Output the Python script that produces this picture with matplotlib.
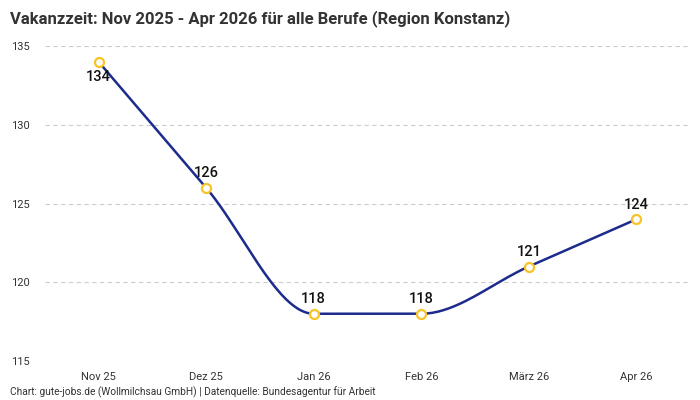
import numpy as np
import matplotlib
matplotlib.use('Agg')
import matplotlib.pyplot as plt

months = ['Nov 25', 'Dez 25', 'Jan 26', 'Feb 26', 'März 26', 'Apr 26']
vakanz = [134, 126, 118, 118, 121, 124]
y_ticks = [115, 120, 125, 130, 135]

plt.rcParams['font.family'] = ['Roboto', 'DejaVu Sans']


def monotone_curve(xs, ys, n=40):
    # Fritsch-Carlson monotone cubic, for the smooth line
    xs = np.asarray(xs, float)
    ys = np.asarray(ys, float)
    h = np.diff(xs)
    d = np.diff(ys) / h
    m = np.zeros_like(ys)
    m[0], m[-1] = d[0], d[-1]
    for i in range(1, len(ys) - 1):
        if d[i - 1] * d[i] <= 0:
            m[i] = 0
        else:
            w1 = 2 * h[i] + h[i - 1]
            w2 = h[i] + 2 * h[i - 1]
            m[i] = (w1 + w2) / (w1 / d[i - 1] + w2 / d[i])
    px, py = [], []
    for i in range(len(xs) - 1):
        t = np.linspace(0, 1, n)
        h00 = 2 * t**3 - 3 * t**2 + 1
        h10 = t**3 - 2 * t**2 + t
        h01 = -2 * t**3 + 3 * t**2
        h11 = t**3 - t**2
        px.extend(xs[i] + t * h[i])
        py.extend(h00 * ys[i] + h10 * h[i] * m[i] + h01 * ys[i + 1] + h11 * h[i] * m[i + 1])
    return np.array(px), np.array(py)


fig = plt.figure(figsize=(7, 4), dpi=100)
ax = fig.add_axes([0.064, 0.0975, 0.922, 0.7875])

x = np.arange(len(months))
cx, cy = monotone_curve(x, vakanz)
ax.plot(cx, cy, color='#1c2b8c', lw=1.8, zorder=3)
ax.plot(x, vakanz, 'o', ms=6.5, mfc='white', mec='#f7c325', mew=1.6, zorder=4)

for i, v in enumerate(vakanz):
    off = -11 if i == 0 else 10.5
    ax.annotate(str(v), (x[i], v), xytext=(0, off), textcoords='offset points',
                ha='center', va='center', fontsize=10.5, fontweight='medium', color='#111111')

ax.set_xlim(-0.5, len(months) - 0.5)
ax.set_ylim(115, 135)
ax.set_xticks(x)
ax.set_xticklabels(months)
ax.set_yticks(y_ticks)
ax.tick_params(axis='both', length=0, labelsize=8, colors='#333333')
ax.tick_params(axis='x', pad=8)
ax.tick_params(axis='y', pad=11)
ax.grid(axis='y', color='#cccccc', ls=(0, (4, 3)), lw=0.8)
for s in ax.spines.values():
    s.set_visible(False)
ax.set_axisbelow(True)

fig.text(0.014, 0.975, 'Vakanzzeit: Nov 2025 - Apr 2026 für alle Berufe (Region Konstanz)',
         ha='left', va='top', fontsize=12, fontweight='bold', color='#333333')
fig.text(0.014, 0.004, 'Chart: gute-jobs.de (Wollmilchsau GmbH) | Datenquelle: Bundesagentur für Arbeit',
         ha='left', va='bottom', fontsize=7.3, color='#333333')

fig.savefig('out.png', dpi=100)
